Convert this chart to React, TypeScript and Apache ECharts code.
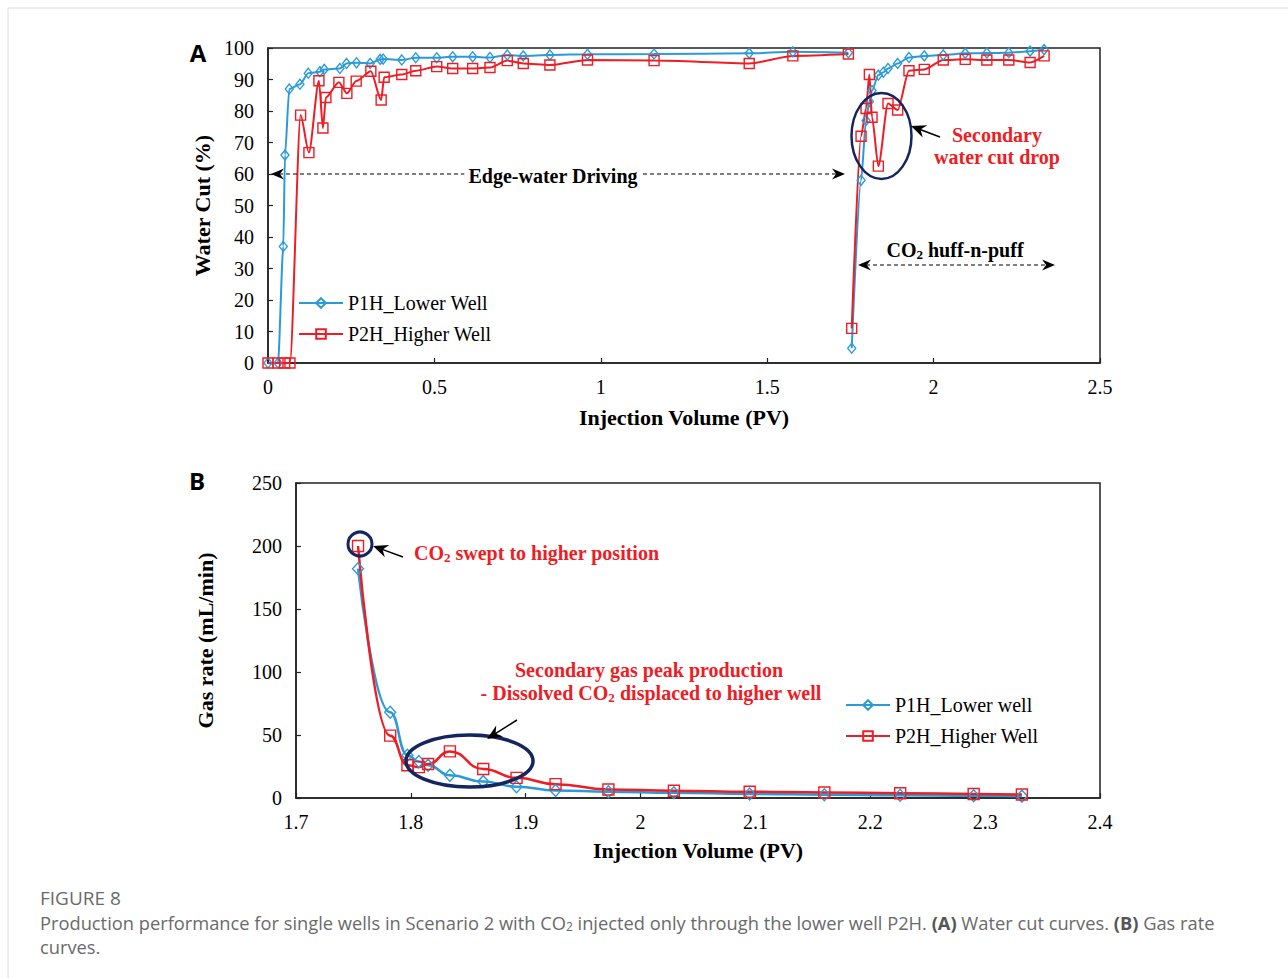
import React, { useEffect, useRef } from "react";
import * as echarts from "echarts";

// ---------- Panel A : water cut (%) vs injection volume (PV) ----------
const aP1hEdgeX = [0, 0.03, 0.046, 0.051, 0.064, 0.096, 0.121, 0.156, 0.169, 0.216, 0.236, 0.266, 0.307, 0.337, 0.346, 0.402, 0.444, 0.507, 0.555, 0.615, 0.667, 0.719, 0.767, 0.847, 0.96, 1.16, 1.446, 1.577, 1.744];
const aP1hEdgeY = [0, 0, 37, 66, 87, 88.5, 92, 92.5, 93.2, 93.5, 95.1, 95.3, 95.1, 96.4, 96.5, 96.2, 96.9, 96.9, 97.2, 97.2, 97, 97.8, 97.5, 97.8, 98, 98.1, 98.3, 98.8, 98.5];
const aP1hHuffX = [1.754, 1.782, 1.797, 1.807, 1.815, 1.834, 1.849, 1.863, 1.892, 1.926, 1.972, 2.029, 2.095, 2.16, 2.226, 2.29, 2.332];
const aP1hHuffY = [4.7, 58, 77, 83, 86.5, 91.4, 92.3, 93.5, 95.1, 97, 97.5, 97.8, 98.3, 98.4, 98.5, 99, 99.5];

const aP2hEdgeX = [0, 0.03, 0.05, 0.066, 0.098, 0.123, 0.153, 0.165, 0.174, 0.213, 0.237, 0.265, 0.309, 0.34, 0.349, 0.402, 0.444, 0.507, 0.555, 0.615, 0.667, 0.719, 0.767, 0.847, 0.96, 1.16, 1.446, 1.577, 1.744];
const aP2hEdgeY = [0, 0, 0, 0, 78.7, 66.8, 89.6, 74.6, 84.3, 89.1, 85.6, 89.5, 92.6, 83.5, 90.7, 91.6, 92.8, 94.1, 93.5, 93.5, 93.8, 96, 95.1, 94.6, 96.2, 96, 95.1, 97.5, 98.1];
const aP2hHuffX = [1.754, 1.782, 1.797, 1.807, 1.815, 1.834, 1.863, 1.892, 1.926, 1.972, 2.029, 2.095, 2.16, 2.226, 2.29, 2.332];
const aP2hHuffY = [11, 72, 80.8, 91.6, 78, 62.5, 82.4, 80.3, 92.8, 93.2, 96.2, 96.4, 96.2, 96.2, 95.4, 97.5];

// ---------- Panel B : gas rate (mL/min) vs injection volume (PV) ----------
const bX = [1.754, 1.782, 1.797, 1.807, 1.815, 1.834, 1.863, 1.892, 1.926, 1.972, 2.029, 2.095, 2.16, 2.226, 2.29, 2.332];
const bP1h = [182, 68, 34, 29, 26, 18, 13, 9, 6, 5, 4.2, 3.2, 2.6, 2.2, 1.8, 1.5];
const bP2h = [200, 49.5, 26, 24.5, 27, 37, 23, 16, 11, 6.8, 5.8, 5, 4.4, 3.8, 3.2, 2.8];

const aNames = ["P1H_Lower Well", "P2H_Higher Well"];
const bNames = ["P1H_Lower well", "P2H_Higher Well"];

const FONT = "'Liberation Serif', 'Times New Roman', serif";
const SANS = "'Open Sans', 'Noto Sans', sans-serif";
const BLUE = "#2b9bd8";
const RED = "#ee1c24";
const NAVY = "#15255e";
const AX = "#222";
const FS = 20;

const zip = (xs: number[], ys: number[]) => xs.map((x, i) => [x, ys[i]]);

function arrowHead(tx: number, ty: number, fx: number, fy: number, L = 13, W = 5.5) {
  const dx = tx - fx, dy = ty - fy;
  const len = Math.hypot(dx, dy);
  const ux = dx / len, uy = dy / len;
  const px = -uy, py = ux;
  const pts = [
    [tx, ty],
    [tx - ux * L + px * W, ty - uy * L + py * W],
    [tx - ux * L * 0.68, ty - uy * L * 0.68],
    [tx - ux * L - px * W, ty - uy * L - py * W],
  ];
  return { type: "polygon", shape: { points: pts }, style: { fill: "#000" }, z: 10 };
}

function arrow(fx: number, fy: number, tx: number, ty: number, width = 1.5) {
  const dx = tx - fx, dy = ty - fy;
  const len = Math.hypot(dx, dy);
  const ex = tx - (dx / len) * 9, ey = ty - (dy / len) * 9;
  return [
    { type: "line", shape: { x1: fx, y1: fy, x2: ex, y2: ey }, style: { stroke: "#000", lineWidth: width }, z: 10 },
    arrowHead(tx, ty, fx, fy, 15, 6.5),
  ];
}

function dashedDouble(x1: number, x2: number, y: number) {
  return [
    { type: "line", shape: { x1: x1 + 8, y1: y, x2: x2 - 8, y2: y }, style: { stroke: "#000", lineWidth: 1.2, lineDash: [4, 3] }, z: 10 },
    arrowHead(x1, y, x2, y, 13, 5.5),
    arrowHead(x2, y, x1, y, 13, 5.5),
  ];
}

function lineSeries(name: string, data: number[][], xi: number, color: string, symbol: string, size: any, width: number, smooth: number) {
  return {
    type: "line",
    name,
    xAxisIndex: xi,
    yAxisIndex: xi,
    data,
    smooth,
    smoothMonotone: "x",
    symbol,
    symbolSize: size,
    showAllSymbol: true,
    lineStyle: { color, width },
    itemStyle: { color: "rgba(255,255,255,0)", borderColor: color, borderWidth: 1.4 },
    emphasis: { disabled: true },
  };
}

function axisCommon() {
  return {
    axisLine: { show: true, onZero: false, lineStyle: { color: AX, width: 1.5 } },
    axisTick: { show: true, inside: true, length: 5, lineStyle: { color: AX, width: 1.2 } },
    splitLine: { show: false },
    axisLabel: { fontFamily: FONT, fontSize: FS, color: "#000", margin: 14 },
    nameLocation: "middle",
    nameTextStyle: { fontFamily: FONT, fontSize: 22, fontWeight: "bold", color: "#000" },
  };
}

export default function App() {
  const ref = useRef<HTMLDivElement>(null);
  useEffect(() => {
    if (!ref.current) return;
    const chart = echarts.init(ref.current, undefined, { renderer: "svg" });
    const legendCommon = {
      orient: "vertical",
      itemWidth: 44,
      itemHeight: 12,
      itemGap: 11,
      padding: 0,
      textStyle: { fontFamily: FONT, fontSize: FS, color: "#000" },
      selectedMode: false,
    };
    const captionRich = {
      n: { fontFamily: SANS, fontSize: 18.3, fill: "#6a6a6a" },
      s: { fontFamily: SANS, fontSize: 12, fill: "#6a6a6a", padding: [9, 0, 0, 0] },
      b: { fontFamily: SANS, fontSize: 18.3, fill: "#555", fontWeight: "bold" },
    };
    const redRich = {
      r: { fontFamily: FONT, fontSize: FS, fontWeight: "bold", fill: RED },
      s: { fontFamily: FONT, fontSize: 13, fontWeight: "bold", fill: RED, padding: [9, 0, 0, 0] },
    };
    const option: any = {
      animation: false,
      backgroundColor: "#fff",
      grid: [
        { left: 268, top: 48, width: 832, height: 315, show: true, borderColor: AX, borderWidth: 1.5, backgroundColor: "transparent" },
        { left: 296, top: 483, width: 804, height: 315, show: true, borderColor: AX, borderWidth: 1.5, backgroundColor: "transparent" },
      ],
      xAxis: [
        { ...axisCommon(), type: "value", gridIndex: 0, min: 0, max: 2.5, interval: 0.5, name: "Injection Volume (PV)", nameGap: 43 },
        {
          ...axisCommon(), type: "value", gridIndex: 1, min: 1.7, max: 2.4, interval: 0.1, name: "Injection Volume (PV)", nameGap: 41,
          axisLabel: { fontFamily: FONT, fontSize: FS, color: "#000", margin: 14, formatter: (v: number) => String(Math.round(v * 10) / 10) },
        },
      ],
      yAxis: [
        { ...axisCommon(), type: "value", gridIndex: 0, min: 0, max: 100, interval: 10, name: "Water Cut (%)", nameGap: 54 },
        { ...axisCommon(), type: "value", gridIndex: 1, min: 0, max: 250, interval: 50, name: "Gas rate (mL/min)", nameGap: 80 },
      ],
      legend: [
        { ...legendCommon, data: aNames, left: 298, top: 293 },
        { ...legendCommon, data: bNames, left: 845, top: 695 },
      ],
      series: [
        lineSeries(aNames[0], zip(aP1hEdgeX, aP1hEdgeY), 0, BLUE, "diamond", [8, 10], 2, 0.25),
        lineSeries(aNames[0], zip(aP1hHuffX, aP1hHuffY), 0, BLUE, "diamond", [8, 10], 2, 0.25),
        lineSeries(aNames[1], zip(aP2hEdgeX, aP2hEdgeY), 0, RED, "rect", 10, 2, 0.25),
        lineSeries(aNames[1], zip(aP2hHuffX, aP2hHuffY), 0, RED, "rect", 10, 2, 0.25),
        lineSeries(bNames[0], zip(bX, bP1h), 1, BLUE, "diamond", [11, 12], 2.5, 0.5),
        lineSeries(bNames[1], zip(bX, bP2h), 1, RED, "rect", 11, 2.5, 0.5),
      ],
      graphic: [
        { type: "line", shape: { x1: 8, y1: 8, x2: 1288, y2: 8 }, style: { stroke: "#dcdcdc", lineWidth: 1 } },
        { type: "line", shape: { x1: 8, y1: 8, x2: 8, y2: 978 }, style: { stroke: "#dcdcdc", lineWidth: 1 } },
        { type: "text", x: 198, y: 52, style: { text: "A", font: `bold 24px ${SANS}`, fill: "#000", textAlign: "center", textVerticalAlign: "middle" } },
        { type: "text", x: 197, y: 480, style: { text: "B", font: `bold 24px ${SANS}`, fill: "#000", textAlign: "center", textVerticalAlign: "middle" } },
        // Panel A annotations
        ...dashedDouble(271, 845, 174),
        { type: "text", x: 553, y: 176, z: 11, style: { text: "Edge-water Driving", font: `bold ${FS}px ${FONT}`, fill: "#000", textAlign: "center", textVerticalAlign: "middle", backgroundColor: "#fff", padding: [0, 4] } },
        ...dashedDouble(858, 1055, 265),
        { type: "text", x: 955, y: 250, z: 11, style: { text: "{k|CO}{t|2}{k| huff-n-puff}", textAlign: "center", textVerticalAlign: "middle", rich: { k: { fontFamily: FONT, fontSize: FS, fontWeight: "bold", fill: "#000" }, t: { fontFamily: FONT, fontSize: 13, fontWeight: "bold", fill: "#000", padding: [9, 0, 0, 0] } } } },
        { type: "ellipse", shape: { cx: 881.5, cy: 136, rx: 30, ry: 43 }, style: { stroke: NAVY, lineWidth: 2.5, fill: "none" }, z: 9 },
        ...arrow(940, 137, 911, 126, 1.5),
        { type: "text", x: 997, y: 135, style: { text: "Secondary", font: `bold ${FS}px ${FONT}`, fill: RED, textAlign: "center", textVerticalAlign: "middle" } },
        { type: "text", x: 997, y: 157, style: { text: "water cut drop", font: `bold ${FS}px ${FONT}`, fill: RED, textAlign: "center", textVerticalAlign: "middle" } },
        // Panel B annotations
        { type: "circle", shape: { cx: 360, cy: 544, r: 12 }, style: { stroke: NAVY, lineWidth: 3, fill: "none" }, z: 9 },
        ...arrow(403, 557, 373, 546, 1.5),
        { type: "text", x: 414, y: 553, style: { text: "{r|CO}{s|2}{r| swept to higher position}", textAlign: "left", textVerticalAlign: "middle", rich: redRich } },
        { type: "text", x: 649, y: 670, style: { text: "{r|Secondary gas peak production}", textAlign: "center", textVerticalAlign: "middle", rich: redRich } },
        { type: "text", x: 651, y: 693, style: { text: "{r|- Dissolved CO}{s|2}{r| displaced to higher well}", textAlign: "center", textVerticalAlign: "middle", rich: redRich } },
        { type: "ellipse", shape: { cx: 469.5, cy: 761, rx: 63.5, ry: 26 }, style: { stroke: NAVY, lineWidth: 3.5, fill: "none" }, z: 9 },
        ...arrow(517, 720, 487, 739, 1.5),
        // Caption
        { type: "text", x: 40, y: 898, style: { text: "FIGURE 8", font: `19px ${SANS}`, fill: "#6a6a6a", textAlign: "left", textVerticalAlign: "middle" } },
        { type: "text", x: 40, y: 922, style: { text: "{n|Production performance for single wells in Scenario 2 with CO}{s|2}{n| injected only through the lower well P2H. }{b|(A)}{n| Water cut curves. }{b|(B)}{n| Gas rate}", textAlign: "left", textVerticalAlign: "middle", rich: captionRich } },
        { type: "text", x: 40, y: 946, style: { text: "curves.", font: `18.3px ${SANS}`, fill: "#6a6a6a", textAlign: "left", textVerticalAlign: "middle" } },
      ],
    };
    chart.setOption(option);
    return () => chart.dispose();
  }, []);
  return <div ref={ref} style={{ position: "absolute", left: 0, top: 0, width: 1288, height: 978 }} />;
}
